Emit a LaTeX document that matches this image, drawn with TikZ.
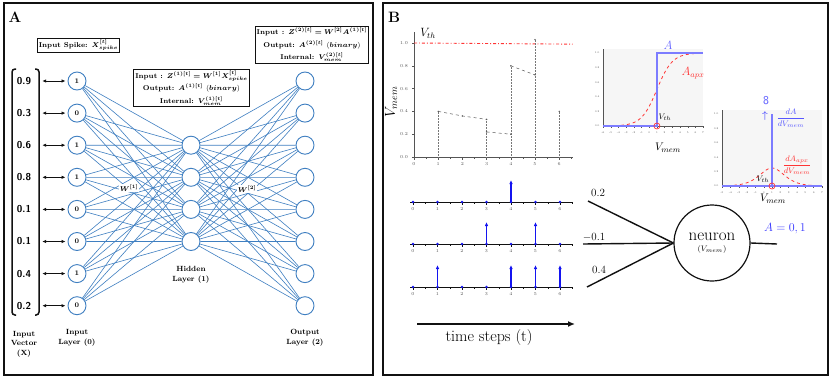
\documentclass[tikz,border=0pt]{standalone}
\usepackage{amsmath}
\usepackage{bm}
\usepackage{xcolor}
\usepackage{tikz}
\usetikzlibrary{arrows.meta,positioning,calc}
\definecolor{netblue}{HTML}{3F7FC1}
\definecolor{spikeblue}{HTML}{1414F0}
\definecolor{stepblue}{HTML}{7C7CFF}
\definecolor{red1}{HTML}{FF3535}
\definecolor{ink}{HTML}{111111}
\definecolor{muted}{HTML}{555555}
\definecolor{plotbg}{HTML}{F6F6F6}
\tikzset{
  unit/.style={circle,draw=netblue,line width=0.9pt,minimum size=18pt,inner sep=0pt,
               font=\fontsize{7}{7}\selectfont\bfseries},
  link/.style={netblue,line width=0.6pt},
  infobox/.style={draw=ink,line width=0.8pt,fill=white,align=center,inner sep=1.5pt,
                  font=\fontsize{7}{12.5}\selectfont\bfseries},
  layerlabel/.style={align=center,font=\fontsize{7.5}{9.5}\selectfont\bfseries},
  ticklabel/.style={font=\fontsize{4.5}{5}\selectfont,color=muted},
  tinylabel/.style={font=\fontsize{2.6}{3}\selectfont,color=muted},
}

\begin{document}
\begin{tikzpicture}[x=1pt,y=-1pt]
  \useasboundingbox (0,0) rectangle (830,378);
  \fill[white] (0,0) rectangle (830,378);
  % panels
  \draw[ink,line width=2pt] (4,3) rectangle (373,375);
  \draw[ink,line width=2pt] (383,3) rectangle (828,375);
  \node[font=\fontsize{15}{15}\selectfont\bfseries] (tagA) at (15,17) {A};
  \node[font=\fontsize{15}{15}\selectfont\bfseries] (tagB) at (394,17) {B};

  % network
  \foreach \v [count=\i from 0] in {1,0,1,1,0,0,1,0}{
    \node[unit] (in\i) at (77,{81+32.1*\i}) {\v};
    \node[unit] (out\i) at (305,{81+32.1*\i}) {};}
  \foreach \j in {0,...,3}{
    \node[unit] (hid\j) at (191,{145.2+32.1*\j}) {};}
  \foreach \i in {0,...,7}{
    \foreach \j in {0,...,3}{
      \draw[link] (in\i) -- (hid\j);
      \draw[link] (hid\j) -- (out\i);}}
  \node[fill=white,inner sep=1pt,font=\fontsize{7}{7}\selectfont] (w1) at (129,188) {$\bm{W^{[1]}}$};
  \node[fill=white,inner sep=1pt,font=\fontsize{7}{7}\selectfont] (w2) at (247,189) {$\bm{W^{[2]}}$};

  % input vector
  \foreach \x [count=\i from 0] in {0.9,0.3,0.6,0.8,0.1,0.1,0.4,0.2}{
    \node[font=\fontsize{10}{10}\selectfont\sffamily\bfseries,minimum width=36pt,inner sep=0pt]
         (val\i) at (24,{81+32.1*\i}) {\x};
    \draw[{Latex[length=4pt,width=3.5pt]}-{Latex[length=4pt,width=3.5pt]},ink,line width=0.9pt,
          shorten >=2pt] (val\i.east) -- (in\i.west);}
  \draw[ink,line width=1.5pt,rounded corners=3pt] (16,69) -- (12,69) -- (12,315) -- (16,315);
  \draw[ink,line width=1.5pt,rounded corners=3pt] (35,69) -- (39,69) -- (39,315) -- (35,315);

  \node[infobox] (spikebox) at (78.5,45) {Input Spike: $\bm{X^{[t]}_{spike}}$};
  \node[infobox] (hidbox) at (191.5,88)
       {Input : $\bm{Z^{(1)[t]}=W^{[1]}X^{[t]}_{spike}}$\\
        Output: $\bm{A^{(1)[t]}}$ $(\bm{binary})$\\
        Internal: $\bm{V^{(1)[t]}_{mem}}$};
  \node[infobox] (outbox) at (312,45)
       {Input : $\bm{Z^{(2)[t]}=W^{[2]}A^{(1)[t]}}$\\
        Output: $\bm{A^{(2)[t]}}$ $(\bm{binary})$\\
        Internal: $\bm{V^{(2)[t]}_{mem}}$};

  \node[layerlabel] (lblx) at (24,344) {Input\\Vector\\(X)};
  \node[layerlabel] (lbl0) at (77,338) {Input\\Layer (0)};
  \node[layerlabel] (lbl1) at (191,275) {Hidden\\Layer (1)};
  \node[layerlabel] (lbl2) at (305,338) {Output\\Layer (2)};

  % membrane potential
  \begin{scope}[shift={(414,157)},x=24.2pt,y=114pt]
    \draw[muted,line width=0.5pt] (0,0) -- (6.55,0);
    \draw[muted,line width=0.5pt] (0,0) -- (0,1.1);
    \foreach \t in {0,...,6}{
      \draw[muted,line width=0.4pt] (\t,0) -- (\t,-0.025);
      \node[ticklabel,below=0pt] at (\t,-0.02) {\t};}
    \foreach \t in {0.5,1.5,...,6.5}{\draw[muted,line width=0.3pt] (\t,0) -- (\t,-0.014);}
    \foreach \y in {0.0,0.2,0.4,0.6,0.8,1.0}{
      \draw[muted,line width=0.4pt] (0,\y) -- (-0.1,\y);
      \node[ticklabel,left=0pt] at (-0.1,\y) {\y};}
    \draw[red1,line width=0.9pt,dash dot] (0,1.0) -- (6.55,0.99);
    \draw[muted!80,densely dotted,line width=0.5pt] (1,0) -- (1,0.4) (3,0) -- (3,0.33)
         (4,0) -- (4,0.8) (5,0) -- (5,1.03) (6,0) -- (6,0.4);
    \draw[muted,dashed,line width=0.5pt] (1,0.4) -- (2,0.36) -- (3,0.33)
         (3,0.22) -- (4,0.2) (4,0.8) -- (5,0.72);
    \foreach \p in {(1,0.4),(2,0.36),(3,0.33),(3,0.22),(4,0.2),(4,0.8),(5,0.72),(5,1.03),(6,0.4)}
      \fill[muted] \p circle (0.8pt);
  \end{scope}
  \node[font=\fontsize{12}{12}\selectfont] (vth) at (428,33) {$V_{th}$};
  \node[rotate=90,font=\fontsize{14}{14}\selectfont] (vmem) at (391,102) {$V_{mem}$};

  % step function
  \begin{scope}[shift={(603,126)},x=7.7pt,y=73pt]
    \fill[plotbg] (0,0) rectangle (13,1.05);
    \draw[muted,line width=0.4pt] (0,0) -- (13,0) (0,0) -- (0,1.05);
    \foreach \v [count=\k from 0] in {-6,...,7}{
      \draw[muted,line width=0.3pt] (\k,0) -- (\k,-0.03);
      \node[tinylabel,below=0pt] at (\k,-0.03) {\v};}
    \foreach \y in {0.0,0.2,0.4,0.6,0.8,1.0}{
      \node[tinylabel,left=0pt] at (0,\y) {\y};}
    \draw[red1,dashed,line width=0.8pt] plot[domain=0:13,samples=60] (\x,{1/(1+exp(-(\x-7)))});
    \draw[stepblue,line width=1.3pt] (0,0) -- (7,0) -- (7,1) -- (13,1);
    \draw[red1,line width=0.7pt] (7,0) circle (3pt);
  \end{scope}
  \node[font=\fontsize{12}{12}\selectfont,color=stepblue!80!blue] (lblA) at (668,45) {$A$};
  \node[font=\fontsize{12}{12}\selectfont,color=red1] (lblAapx) at (693,73) {$A_{apx}$};
  \node[font=\fontsize{8.5}{8.5}\selectfont] (vth2) at (665,117) {$V_{th}$};
  \node[font=\fontsize{11}{11}\selectfont] (vmem2) at (668,148) {$V_{mem}$};

  % derivative
  \begin{scope}[shift={(722,186)},x=8.33pt,y=72pt]
    \fill[plotbg] (0,0) rectangle (12,1.05);
    \draw[muted,line width=0.4pt] (0,0) -- (12,0) (0,0) -- (0,1.05);
    \foreach \v [count=\k from 0] in {-5,...,7}{
      \draw[muted,line width=0.3pt] (\k,0) -- (\k,-0.03);
      \node[tinylabel,below=0pt] at (\k,-0.03) {\v};}
    \foreach \y in {0.0,0.2,0.4,0.6,0.8,1.0}{
      \node[tinylabel,left=0pt] at (0,\y) {\y};}
    \draw[red1,dashed,line width=0.8pt] plot[domain=0:12,samples=60]
         (\x,{0.25/(cosh((\x-6)/2)^2)});
    \draw[stepblue,line width=1.3pt] (0,0) -- (12,0) (6,0) -- (6,1);
    \draw[red1,line width=0.7pt] (6,0) circle (3pt);
  \end{scope}
  \node[font=\fontsize{12}{12}\selectfont\sffamily,color=stepblue!70!blue] (inf) at (766,101) {8};
  \node[font=\fontsize{10}{10}\selectfont,color=stepblue!70!blue] (infup) at (765,116) {$\bm{\uparrow}$};
  \node[font=\fontsize{8.5}{8.5}\selectfont,color=stepblue!70!blue] (dA) at (791,118)
       {$\displaystyle\frac{dA}{dV_{mem}}$};
  \node[font=\fontsize{8.5}{8.5}\selectfont,color=red1] (dAapx) at (797,165)
       {$\displaystyle\frac{dA_{apx}}{dV_{mem}}$};
  \node[font=\fontsize{8.5}{8.5}\selectfont] (vth3) at (763,179) {$V_{th}$};
  \node[font=\fontsize{11}{11}\selectfont] (vmem3) at (773,199) {$V_{mem}$};

  % spike trains
  \foreach \base/\spk in {202/{4},244/{3,5},287/{1,4,5,6}}{
    \draw[ink,line width=0.7pt] (410,\base) -- (573,\base);
    \foreach \t in {0.5,1.5,...,6.5}{\draw[ink,line width=0.3pt] ({413+24.5*\t},\base) -- ++(0,1.5);}
    \foreach \t in {0,...,6}{
      \draw[ink,line width=0.4pt] ({413+24.5*\t},\base) -- ++(0,2.5);
      \fill[spikeblue] ({413+24.5*\t},\base) circle (1.3pt);
      \node[ticklabel,below=0pt] at ({413+24.5*\t},{\base+2}) {\t};}
    \foreach \s in \spk{
      \draw[spikeblue,line width=1.2pt,-{Latex[length=4pt,width=3.5pt]}]
           ({413+24.5*\s},\base) -- ++(0,-22);}}
  \coordinate (tstart) at (417,324);
  \coordinate (tend) at (575,324);
  \draw[ink,line width=1.4pt,-{Latex[length=7pt,width=6pt]}] (tstart) -- (tend);
  \node[font=\fontsize{16}{16}\selectfont] (tlabel) at (489,338) {time steps (t)};

  % neuron
  \node[circle,draw=ink,line width=1.2pt,minimum size=76pt,inner sep=0pt,align=center]
       (neuron) at (712,243) {\fontsize{17}{17}\selectfont neuron\\[-1pt]
                              \fontsize{8.5}{9}\selectfont$(V_{mem})$};
  \coordinate (win0) at (588,201);
  \coordinate (win1) at (583,244);
  \coordinate (win2) at (587,287);
  \coordinate (aout) at (777,244);
  \foreach \k in {0,1,2}{\draw[ink,line width=1.4pt] (win\k) -- (neuron.west);}
  \draw[ink,line width=1.4pt] (neuron.east) -- (aout);
  \node[font=\fontsize{11}{11}\selectfont] (wt0) at (598,193) {0.2};
  \node[font=\fontsize{11}{11}\selectfont] (wt1) at (594,237) {$-$0.1};
  \node[font=\fontsize{11}{11}\selectfont] (wt2) at (599,270) {0.4};
  \node[font=\fontsize{13}{13}\selectfont,color=blue!80!white] (aval) at (785,229) {$A=0,1$};
\end{tikzpicture}
\end{document}
